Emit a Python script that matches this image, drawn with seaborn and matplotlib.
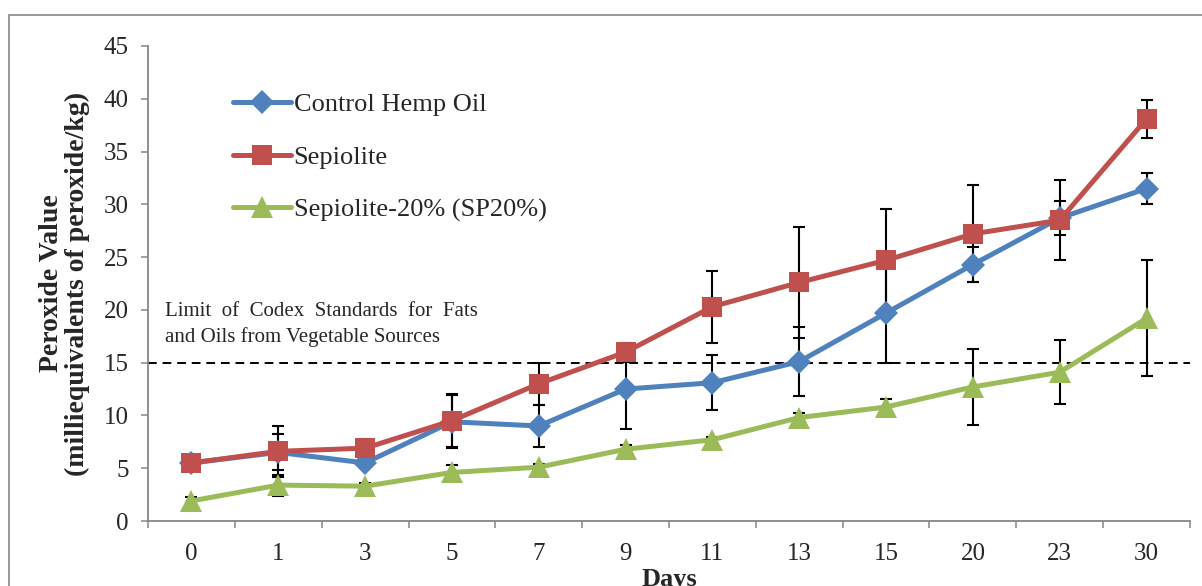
import numpy as np
import pandas as pd
import matplotlib
matplotlib.use("Agg")
import matplotlib.pyplot as plt
from matplotlib.patches import Rectangle
import seaborn as sns

# Storage days (categorical axis)
days = ["0", "1", "3", "5", "7", "9", "11", "13", "15", "20", "23", "30"]

# Peroxide values (meq peroxide/kg) and their error bars
control = [5.5, 6.5, 5.5, 9.4, 9.0, 12.5, 13.1, 15.1, 19.7, 24.3, 28.7, 31.5]
control_err = [0.2, 1.7, 0.3, 2.5, 2.0, 3.8, 2.6, 3.3, 4.7, 1.7, 1.6, 1.5]

sepiolite = [5.5, 6.6, 6.9, 9.5, 13.0, 16.0, 20.3, 22.6, 24.7, 27.2, 28.5, 38.1]
sepiolite_err = [0.2, 2.4, 0.9, 2.5, 2.0, 0.9, 3.4, 5.3, 4.9, 4.6, 3.8, 1.8]

sp20 = [1.9, 3.4, 3.3, 4.6, 5.1, 6.8, 7.7, 9.8, 10.8, 12.7, 14.1, 19.2]
sp20_err = [0.35, 1.0, 0.3, 0.7, 0.3, 0.4, 0.3, 0.45, 0.8, 3.6, 3.05, 5.5]

series_names = ["Control Hemp Oil", "Sepiolite", "Sepiolite-20% (SP20%)"]
codex_limit = 15

colors = {"Control Hemp Oil": "#4F81BD",
          "Sepiolite": "#C0504D",
          "Sepiolite-20% (SP20%)": "#9BBB59"}
markers = {"Control Hemp Oil": "D",
           "Sepiolite": "s",
           "Sepiolite-20% (SP20%)": "^"}
marker_sizes = {"D": 12.5, "s": 15, "^": 16.5}

values = {"Control Hemp Oil": (control, control_err),
          "Sepiolite": (sepiolite, sepiolite_err),
          "Sepiolite-20% (SP20%)": (sp20, sp20_err)}

rows = []
for name in series_names:
    vals, errs = values[name]
    for i, (v, e) in enumerate(zip(vals, errs)):
        rows.append({"pos": i, "day": days[i], "series": name, "value": v, "err": e})
df = pd.DataFrame(rows)

sns.set_theme(style="white")
plt.rcParams["font.family"] = ["Liberation Serif", "DejaVu Serif"]

W, H = 1202, 586
fig = plt.figure(figsize=(W / 100, H / 100), dpi=100)
ax = fig.add_axes([148 / W, 1 - 521 / H, (1190 - 148) / W, (521 - 46) / H])

grey = "#868686"

# Codex limit reference line
ax.axhline(codex_limit, color="black", lw=1.4, ls=(0, (4.5, 3)), zorder=1)

# Error bars underneath the series
for name in series_names:
    sub = df[df["series"] == name]
    ax.errorbar(sub["pos"], sub["value"], yerr=sub["err"], fmt="none",
                ecolor="black", elinewidth=1.5, capsize=4.5, capthick=1.5,
                zorder=1.5)

sns.lineplot(data=df, x="pos", y="value", hue="series", style="series",
             hue_order=series_names, style_order=series_names,
             palette=colors, markers=markers, dashes=False,
             linewidth=3.6, markersize=14, markeredgewidth=0,
             ax=ax, zorder=2)

# Per-shape marker sizes so the diamond, square and triangle look alike
for line in ax.get_lines():
    m = line.get_marker()
    if m in marker_sizes:
        line.set_markersize(marker_sizes[m])

ax.set_xlim(-0.5, len(days) - 0.5)
ax.set_ylim(0, 45)
ax.set_yticks(np.arange(0, 46, 5))

# Category boundaries as major ticks, labels at category centres
ax.set_xticks(np.arange(-0.5, len(days), 1.0))
ax.set_xticklabels([])
ax.set_xticks(np.arange(len(days)), minor=True)
ax.set_xticklabels(days, minor=True)
ax.tick_params(axis="x", which="major", direction="out", length=5,
               width=1.1, color=grey, bottom=True)
ax.tick_params(axis="x", which="minor", length=0, pad=16, labelsize=18,
               bottom=True)
ax.tick_params(axis="y", direction="out", length=5, width=1.1, color=grey,
               pad=9, labelsize=18, left=True)

for side in ["top", "right"]:
    ax.spines[side].set_visible(False)
for side in ["left", "bottom"]:
    ax.spines[side].set_color(grey)
    ax.spines[side].set_linewidth(1.3)

ax.set_ylabel("Peroxide Value\n(milliequivalents of peroxide/kg)",
              fontsize=20, fontweight="bold", linespacing=1.05)
ax.yaxis.set_label_coords((90 - 148) / 1042, 0.5)
ax.set_xlabel("Days", fontsize=19, fontweight="bold")
ax.xaxis.set_label_coords(0.5, (521 - 568) / 475)

fig.text(165 / W, 1 - 312 / H, "Limit  of  Codex  Standards  for  Fats",
         fontsize=15, va="center", ha="left")
fig.text(165 / W, 1 - 337 / H, "and Oils from Vegetable Sources",
         fontsize=15, va="center", ha="left")

handles, labels = ax.get_legend_handles_labels()
for h in handles:
    m = h.get_marker()
    if m in marker_sizes:
        h.set_markersize(marker_sizes[m])
ax.legend(handles, labels, loc="upper left",
          bbox_to_anchor=(233 / W, 1 - 93 / H), bbox_transform=fig.transFigure,
          frameon=False, fontsize=19, borderpad=0, borderaxespad=0,
          handlelength=2.2, handletextpad=0.1, labelspacing=1.1)

# Outer chart frame
fig.add_artist(Rectangle((9 / W, -0.1), 1.2, 1.1 - 15 / H,
                         transform=fig.transFigure, fill=False,
                         edgecolor=grey, lw=1.2))

fig.savefig("out.png", dpi=100)
